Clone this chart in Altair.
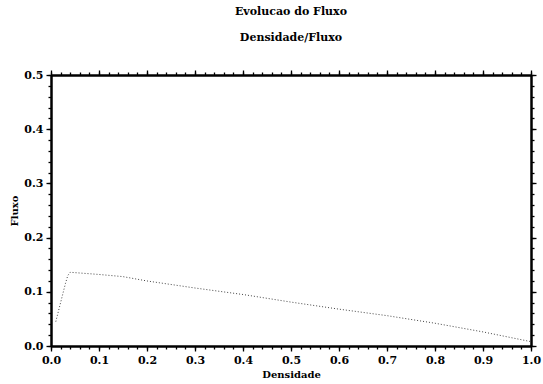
import altair as alt
import pandas as pd

densidade = [0.01, 0.02, 0.03, 0.035, 0.04, 0.1, 0.15, 0.2, 0.3, 0.4, 0.5, 0.6, 0.7, 0.8, 0.9, 1.0]
fluxo = [0.045, 0.08, 0.115, 0.13, 0.136, 0.132, 0.128, 0.12, 0.107, 0.095, 0.081, 0.068, 0.056, 0.042, 0.026, 0.008]

x_major = [round(i * 0.1, 2) for i in range(11)]
x_minor = [round(i * 0.02, 2) for i in range(51)]
y_major = [round(i * 0.1, 2) for i in range(6)]
y_minor = [round(i * 0.02, 2) for i in range(26)]

df = pd.DataFrame({"Densidade": densidade, "Fluxo": fluxo})
FONT = "DejaVu Serif"

xs = alt.Scale(domain=[0, 1], nice=False, zero=False)
ys = alt.Scale(domain=[0, 0.5], nice=False, zero=False)

def ax(orient, values, labels, size, title=None):
    kw = dict(orient=orient, values=values, labels=labels, tickSize=size,
              tickWidth=1.3, tickColor="black", domain=True, domainColor="black",
              domainWidth=2, grid=False, labelFont=FONT, labelFontWeight="bold",
              labelFontSize=11, labelColor="black", format=".1f", labelPadding=3,
              labelFlush=False, labelOverlap=False,
              titleFont=FONT, titleFontWeight="bold", titleFontSize=10, titleColor="black")
    kw["title"] = "" if title is None else title
    return alt.Axis(**kw)

base = alt.Chart(df)

line = base.mark_line(color="#444444", strokeWidth=1, strokeDash=[1, 2]).encode(
    x=alt.X("Densidade:Q", scale=xs, axis=ax("bottom", x_major, True, 5, "Densidade")),
    y=alt.Y("Fluxo:Q", scale=ys, axis=ax("left", y_major, True, 5, "Fluxo")),
)

def ghost(xo, xv, xsz, yo, yv, ysz):
    return base.mark_line(opacity=0).encode(
        x=alt.X("Densidade:Q", scale=xs, axis=ax(xo, xv, False, xsz)),
        y=alt.Y("Fluxo:Q", scale=ys, axis=ax(yo, yv, False, ysz)),
    )

l2 = ghost("bottom", x_minor, 3, "left", y_minor, 3)
l3 = ghost("top", x_major, 5, "right", y_major, 5)
l4 = ghost("top", x_minor, 3, "right", y_minor, 3)

chart = alt.layer(line, l2, l3, l4).resolve_axis(
    x="independent", y="independent"
).properties(
    width=480, height=271,
    padding={"left": 51, "top": 75, "right": 12, "bottom": 38},
    autosize=alt.AutoSizeParams(type="none"),
    title=alt.Title("Evolucao do Fluxo", subtitle="Densidade/Fluxo", anchor="middle",
                    font=FONT, fontWeight="bold", fontSize=11, color="black",
                    subtitleFont=FONT, subtitleFontWeight="bold", subtitleFontSize=11,
                    subtitleColor="black", subtitlePadding=15, offset=26),
).configure_view(stroke=None).configure(background="white")

chart.save("out.html", embed_options={"renderer": "svg", "actions": False})
